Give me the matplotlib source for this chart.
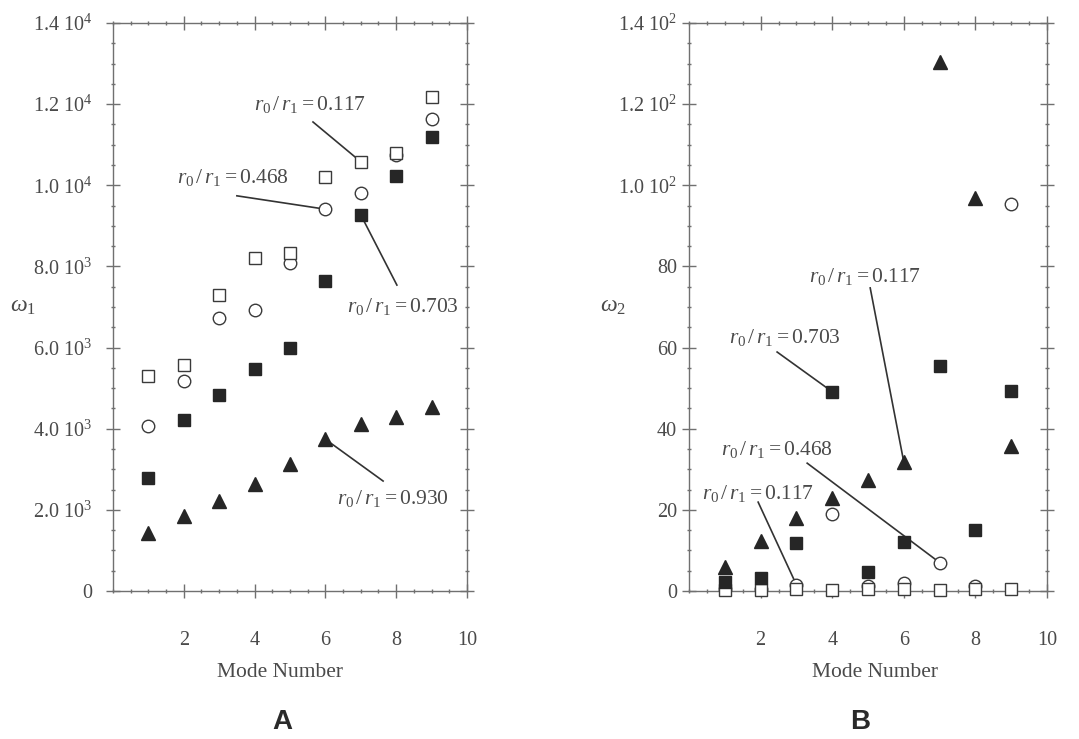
import matplotlib
matplotlib.use("Agg")
import matplotlib.pyplot as plt
from matplotlib.ticker import MultipleLocator, FixedLocator, FixedFormatter

plt.rcParams['font.family'] = ['Liberation Serif', 'DejaVu Serif']
plt.rcParams['mathtext.fontset'] = 'custom'
plt.rcParams['mathtext.rm'] = 'Liberation Serif'
plt.rcParams['mathtext.it'] = 'Liberation Serif:italic'

# ---------------- data ----------------
modes = [1, 2, 3, 4, 5, 6, 7, 8, 9]

# panel A : omega_1
w1_r0117 = [5300, 5570, 7300, 8200, 8320, 10210, 10580, 10790, 12180]
w1_r0468 = [4070, 5180, 6720, 6930, 8080, 9410, 9820, 10750, 11630]
w1_r0703 = [2780, 4210, 4830, 5470, 5980, 7650, 9270, 10230, 11200]
w1_r0930 = [1440, 1850, 2220, 2630, 3120, 3740, 4120, 4280, 4530]

# panel B : omega_2
w2_r0117 = [0.3, 0.3, 0.4, 0.3, 0.4, 0.4, 0.3, 0.4, 0.6]
w2_r0468 = [0.5, 0.6, 1.5, 19.0, 1.2, 2.0, 7.0, 1.2, 95.4]
w2_r0703 = [2.1, 3.3, 11.8, 49.1, 4.6, 12.0, 55.5, 15.0, 49.3]
w2_r0930 = [6.0, 12.4, 17.9, 22.8, 27.4, 31.7, 130.5, 96.8, 35.8]

xtick_vals = [2, 4, 6, 8, 10]
xtick_labels = ['2', '4', '6', '8', '10']
ytickA_vals = [0, 2000, 4000, 6000, 8000, 10000, 12000, 14000]
ytickA_labels = ['0', '2.0 10$^3$', '4.0 10$^3$', '6.0 10$^3$', '8.0 10$^3$',
                 '1.0 10$^4$', '1.2 10$^4$', '1.4 10$^4$']
ytickB_vals = [0, 20, 40, 60, 80, 100, 120, 140]
ytickB_labels = ['0', '20', '40', '60', '80', '1.0 10$^2$', '1.2 10$^2$', '1.4 10$^2$']

label_0117 = r'$r_0\,/\,r_1 = 0.117$'
label_0468 = r'$r_0\,/\,r_1 = 0.468$'
label_0703 = r'$r_0\,/\,r_1 = 0.703$'
label_0930 = r'$r_0\,/\,r_1 = 0.930$'

# ---------------- styling ----------------
TXT = '#4a4a4a'
DARK = '#262626'
EDGE = '#3a3a3a'
SPINE = '#707070'

fig = plt.figure(figsize=(10.79, 7.39), dpi=100)
axA = fig.add_axes([0.1047, 0.2003, 0.3281, 0.7686])
axB = fig.add_axes([0.6386, 0.2003, 0.3318, 0.7686])


def style_axis(ax, yvals, ylabels, ymax, yminor, ypad):
    ax.set_xlim(0, 10)
    ax.set_ylim(0, ymax)
    ax.xaxis.set_major_locator(FixedLocator(xtick_vals))
    ax.xaxis.set_major_formatter(FixedFormatter(xtick_labels))
    ax.xaxis.set_minor_locator(MultipleLocator(0.5))
    ax.yaxis.set_major_locator(FixedLocator(yvals))
    ax.yaxis.set_major_formatter(FixedFormatter(ylabels))
    ax.yaxis.set_minor_locator(MultipleLocator(yminor))
    for s in ax.spines.values():
        s.set_color(SPINE)
        s.set_linewidth(1.0)
    ax.tick_params(which='both', direction='inout', top=True, right=True,
                   color=SPINE, width=1.0)
    ax.tick_params(which='major', length=9.5, labelsize=14.5, labelcolor=TXT)
    ax.tick_params(which='minor', length=3)
    ax.tick_params(axis='x', which='major', pad=24)
    ax.tick_params(axis='y', which='major', pad=ypad)


style_axis(axA, ytickA_vals, ytickA_labels, 14000, 500, 10)
style_axis(axB, ytickB_vals, ytickB_labels, 140, 5, 4)


def plot_series(ax, a, b, c, d):
    ax.plot(modes, a, ls='none', marker='s', ms=8.5, mfc='white', mec=EDGE,
            mew=1.0, zorder=5, clip_on=False)
    ax.plot(modes, b, ls='none', marker='o', ms=9, mfc='white', mec=EDGE,
            mew=1.0, zorder=4, clip_on=False)
    ax.plot(modes, c, ls='none', marker='s', ms=8.5, color=DARK, zorder=6,
            clip_on=False)
    ax.plot(modes, d, ls='none', marker='^', ms=10, color=DARK, zorder=6,
            clip_on=False)


plot_series(axA, w1_r0117, w1_r0468, w1_r0703, w1_r0930)
plot_series(axB, w2_r0117, w2_r0468, w2_r0703, w2_r0930)


def callout(ax, text, text_xy, start_xy, target_idx, series):
    ax.text(text_xy[0], text_xy[1], text, ha='center', va='center',
            fontsize=15.5, color=TXT, zorder=7)
    ax.plot([start_xy[0], modes[target_idx]], [start_xy[1], series[target_idx]],
            color='#333333', lw=1.2, zorder=3)


# panel A callouts
callout(axA, label_0117, (5.56, 11980), (5.65, 11560), 6, w1_r0117)
callout(axA, label_0468, (3.39, 10180), (3.50, 9740), 5, w1_r0468)
callout(axA, label_0703, (8.19, 7000), (8.02, 7540), 6, w1_r0703)
callout(axA, label_0930, (7.91, 2290), (7.63, 2710), 5, w1_r0930)

# panel B callouts
callout(axB, label_0117, (4.92, 77.4), (5.06, 74.7), 5, w2_r0930)
callout(axB, label_0703, (2.68, 62.4), (2.46, 58.9), 3, w2_r0703)
callout(axB, label_0468, (2.46, 34.8), (3.30, 31.5), 6, w2_r0468)
callout(axB, label_0117, (1.93, 24.1), (1.93, 21.9), 2, w2_r0468)

# axis labels
for ax, ylab, ylx, xlx in ((axA, r'$\omega_1$', -0.254, 0.472),
                           (axB, r'$\omega_2$', -0.212, 0.52)):
    ax.set_xlabel('Mode Number', fontsize=15.5, color=TXT)
    ax.xaxis.set_label_coords(xlx, -0.143)
    ax.xaxis.label.set_va('center')
    ax.set_ylabel(ylab, fontsize=17, color=TXT, rotation=0)
    ax.yaxis.set_label_coords(ylx, 0.5)
    ax.yaxis.label.set_va('center')
    ax.yaxis.label.set_ha('center')

fig.text(282 / 1079, 1 - 722 / 739, 'A', ha='center', va='center',
         fontsize=20, fontweight='bold', family='Liberation Sans', color='#2a2a2a')
fig.text(860 / 1079, 1 - 722 / 739, 'B', ha='center', va='center',
         fontsize=20, fontweight='bold', family='Liberation Sans', color='#2a2a2a')

fig.savefig('out.png', dpi=100, facecolor='white')
